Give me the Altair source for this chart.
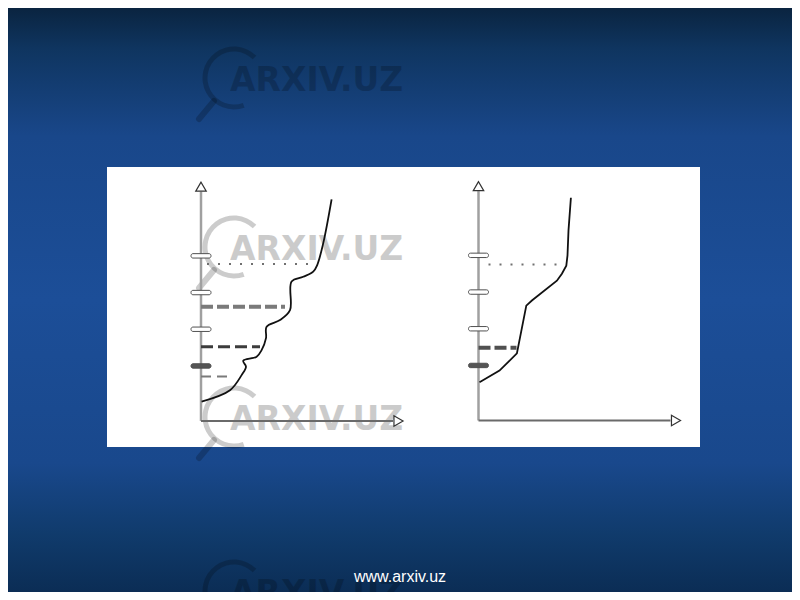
import altair as alt
import pandas as pd

# ---------------- data (panel units) ----------------
tick_levels = [1.5, 2.5, 3.5, 4.5]

left_curve_x = [0.03, 1.45, 2.03, 2.25, 2.11, 2.78, 3.03, 3.25, 3.28, 3.95, 4.45, 4.53, 5.11, 5.61, 5.81, 6.11, 6.53]
left_curve_y = [0.53, 0.84, 1.25, 1.48, 1.64, 1.75, 1.93, 2.26, 2.57, 2.75, 3.02, 3.80, 3.93, 4.07, 4.25, 4.84, 6.04]
right_curve_x = [0.05, 1.05, 1.92, 2.39, 2.67, 3.92, 4.17, 4.39, 4.45, 4.50, 4.62]
right_curve_y = [1.04, 1.36, 1.83, 3.13, 3.27, 3.81, 4.00, 4.22, 4.50, 5.18, 6.07]

left_guide_levels = [4.28, 3.11, 2.02, 1.21]
left_guide_start = [0.3, 0.0, 0.0, 0.0]
left_guide_end = [5.8, 4.2, 2.95, 1.6]
left_guide_kind = ["dotted", "dashed_light", "dashed_dark", "dashed_thin"]

right_guide_levels = [4.25, 1.98]
right_guide_start = [0.5, 0.0]
right_guide_end = [4.2, 1.9]
right_guide_kind = ["dotted", "dashed_dark2"]

axis_x_end = 9.6
axis_x_tip = 10.15
axis_y_end = 6.25
axis_y_tip = 6.52

watermark_text = "ARXIV.UZ"
footer_text = "www.arxiv.uz"

# ---------------- layout (page pixels) ----------------
W, H = 784, 584
ORIGIN = {"left": (201.0, 421.0), "right": (478.5, 420.5)}
UX, UY = 20.0, 36.7
wm_left = [230, 230, 230, 230]
wm_base = [91, 260, 430, 604]

def gx(p, x):
    return ORIGIN[p][0] + x * UX

def gy(p, y):
    return (600 - ORIGIN[p][1]) + y * UY

def up(page_y):
    return 600 - page_y

xs = alt.Scale(domain=[8, 792], nice=False, zero=False)
ys = alt.Scale(domain=[8, 592], nice=False, zero=False)

def X(f):
    return alt.X(f"{f}:Q", scale=xs, axis=None)

def Y(f):
    return alt.Y(f"{f}:Q", scale=ys, axis=None)

# ---------------- background ----------------
bg = alt.Chart(pd.DataFrame({"a": [0]})).mark_rect(
    color=alt.Gradient(
        gradient="linear",
        stops=[
            alt.GradientStop(color="#0a2440", offset=0),
            alt.GradientStop(color="#0f3560", offset=0.07),
            alt.GradientStop(color="#19478a", offset=0.22),
            alt.GradientStop(color="#1c4e98", offset=0.5),
            alt.GradientStop(color="#19488c", offset=0.78),
            alt.GradientStop(color="#103b6c", offset=0.9),
            alt.GradientStop(color="#0b2d55", offset=1),
        ],
        x1=0, x2=0, y1=0, y2=1,
    )
).encode(x=alt.value(0), x2=alt.value(W), y=alt.value(0), y2=alt.value(H))

box = alt.Chart(pd.DataFrame({"a": [0]})).mark_rect(color="white").encode(
    x=alt.value(99), x2=alt.value(692), y=alt.value(159), y2=alt.value(439)
)

# ---------------- watermarks ----------------
wm = pd.DataFrame({"lx": wm_left, "base": wm_base})
wm["ty"] = wm["base"].map(up)
wm["cx"] = wm["lx"] + 4
wm["cy"] = (wm["base"] - 13).map(up)
wm["hx1"] = wm["cx"] - 20
wm["hy1"] = (wm["base"] - 13 + 23).map(up)
wm["hx2"] = wm["cx"] - 35
wm["hy2"] = (wm["base"] - 13 + 41).map(up)
wm["t"] = watermark_text

wm_text = alt.Chart(wm).mark_text(
    color="black", opacity=0.2, font="DejaVu Sans", fontWeight="bold",
    fontSize=33, align="left", baseline="alphabetic"
).encode(x=X("lx"), y=Y("ty"), text="t:N")

wm_arc = alt.Chart(wm).mark_arc(color="black", opacity=0.2).encode(
    x=X("cx"), y=Y("cy"),
    theta=alt.value(2.8), theta2=alt.value(7.07),
    radius=alt.value(31.5), radius2=alt.value(26.5),
)

wm_handle = alt.Chart(wm).mark_rule(
    color="black", opacity=0.2, strokeWidth=6, strokeCap="round"
).encode(x=X("hx1"), y=Y("hy1"), x2="hx2:Q", y2="hy2:Q")

# ---------------- axes ----------------
axes_rows = []
for p in ["left", "right"]:
    axes_rows.append(dict(p=p, k="y", x1=gx(p, 0), y1=gy(p, 0), x2=gx(p, 0), y2=gy(p, axis_y_end)))
    axes_rows.append(dict(p=p, k="x", x1=gx(p, 0), y1=gy(p, 0), x2=gx(p, axis_x_end), y2=gy(p, 0)))
axes_df = pd.DataFrame(axes_rows)

yaxis = alt.Chart(axes_df[axes_df.k == "y"]).mark_rule(color="#a0a0a0", strokeWidth=2.5).encode(
    x=X("x1"), y=Y("y1"), x2="x2:Q", y2="y2:Q")
xaxis = alt.Chart(axes_df[axes_df.k == "x"]).mark_rule(color="#6a6a6a", strokeWidth=2).encode(
    x=X("x1"), y=Y("y1"), x2="x2:Q", y2="y2:Q")

arrow_rows = []
for p in ["left", "right"]:
    arrow_rows.append(dict(p=p, shape="triangle-up", x=gx(p, 0), y=gy(p, (axis_y_end + axis_y_tip) / 2)))
    arrow_rows.append(dict(p=p, shape="triangle-right", x=gx(p, (axis_x_end + axis_x_tip) / 2), y=gy(p, 0)))
arrows = alt.Chart(pd.DataFrame(arrow_rows)).mark_point(
    filled=True, fill="white", stroke="#333333", strokeWidth=1.2, size=110, opacity=1
).encode(x=X("x"), y=Y("y"), shape=alt.Shape("shape:N", scale=None))

tick_rows = []
for p in ["left", "right"]:
    for i, lv in enumerate(tick_levels):
        tick_rows.append(dict(p=p, x1=gx(p, -0.5), x2=gx(p, 0.5),
                              y1=gy(p, lv) - 2.2, y2=gy(p, lv) + 2.2,
                              f="#555555" if i == 0 else "white"))
ticks = alt.Chart(pd.DataFrame(tick_rows)).mark_rect(
    stroke="#505050", strokeWidth=1, cornerRadius=2
).encode(x=X("x1"), x2="x2:Q", y=Y("y1"), y2="y2:Q", fill=alt.Fill("f:N", scale=None))

# ---------------- guide lines ----------------
styles = {
    "dotted": dict(color="#707070", strokeWidth=2, strokeDash=[2, 9]),
    "dashed_light": dict(color="#7a7a7a", strokeWidth=4, strokeDash=[12, 4]),
    "dashed_dark": dict(color="#3c3c3c", strokeWidth=3, strokeDash=[12, 5]),
    "dashed_thin": dict(color="#7a7a7a", strokeWidth=2, strokeDash=[10, 6]),
    "dashed_dark2": dict(color="#505050", strokeWidth=4, strokeDash=[12, 4]),
}
guide_rows = []
for p, lv, s, e, k in list(zip(["left"] * 4, left_guide_levels, left_guide_start, left_guide_end, left_guide_kind)) + \
        list(zip(["right"] * 2, right_guide_levels, right_guide_start, right_guide_end, right_guide_kind)):
    guide_rows.append(dict(p=p, k=k, x1=gx(p, s), x2=gx(p, e), y=gy(p, lv)))
guide_df = pd.DataFrame(guide_rows)
guide_layers = []
for k, st in styles.items():
    sub = guide_df[guide_df.k == k]
    if len(sub):
        guide_layers.append(
            alt.Chart(sub).mark_rule(**st).encode(x=X("x1"), x2="x2:Q", y=Y("y"))
        )

# ---------------- curves ----------------
lc = pd.DataFrame({"i": range(len(left_curve_x)),
                   "x": [gx("left", v) for v in left_curve_x],
                   "y": [gy("left", v) for v in left_curve_y]})
rc = pd.DataFrame({"i": range(len(right_curve_x)),
                   "x": [gx("right", v) for v in right_curve_x],
                   "y": [gy("right", v) for v in right_curve_y]})
left_line = alt.Chart(lc).mark_line(color="#111111", strokeWidth=1.8, interpolate="catmull-rom").encode(
    x=X("x"), y=Y("y"), order="i:Q")
right_line = alt.Chart(rc).mark_line(color="#111111", strokeWidth=1.8).encode(
    x=X("x"), y=Y("y"), order="i:Q")

# ---------------- footer ----------------
ft = pd.DataFrame({"x": [400], "y": [up(582)], "t": [footer_text]})
footer = alt.Chart(ft).mark_text(
    color="white", font="Liberation Sans", fontSize=16, align="center", baseline="alphabetic"
).encode(x=X("x"), y=Y("y"), text="t:N")

chart = alt.layer(
    bg, box, wm_arc, wm_handle, wm_text,
    yaxis, xaxis, *guide_layers, ticks, left_line, right_line, arrows,
    footer,
).properties(
    width=W, height=H, padding=0, autosize="none"
).configure_view(stroke=None)

chart.save("out.html", embed_options={"renderer": "svg", "actions": False})
